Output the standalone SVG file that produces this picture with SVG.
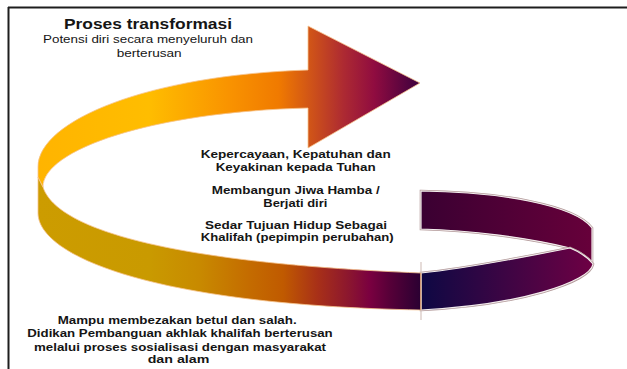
<svg xmlns="http://www.w3.org/2000/svg" xmlns:xlink="http://www.w3.org/1999/xlink" width="627" height="369" viewBox="0 0 627 369">
<style>
.t{font-family:"Liberation Sans",Arial,sans-serif;fill:#151515}
.b{font-weight:bold}
.gold{stroke:#f6c48e;stroke-width:0.8}
.sh{fill:none;stroke:#b39a9a;stroke-width:2.6}
.hl{stroke:#f4eeee;stroke-width:1.2}
</style>
<defs>
<linearGradient id="gUp" gradientUnits="userSpaceOnUse" x1="38" y1="0" x2="420" y2="0">
<stop offset="0" stop-color="#ffb400"/>
<stop offset="0.29" stop-color="#ffbd00"/>
<stop offset="0.5" stop-color="#f99300"/>
<stop offset="0.63" stop-color="#f07a00"/>
<stop offset="0.70" stop-color="#d55a14"/>
<stop offset="0.80" stop-color="#ad2a32"/>
<stop offset="0.88" stop-color="#900c40"/>
<stop offset="1" stop-color="#3c003e"/>
</linearGradient>
<linearGradient id="gLow" gradientUnits="userSpaceOnUse" x1="38" y1="0" x2="421" y2="0">
<stop offset="0" stop-color="#cc9c00"/>
<stop offset="0.29" stop-color="#c99a00"/>
<stop offset="0.42" stop-color="#c88a00"/>
<stop offset="0.55" stop-color="#c46c00"/>
<stop offset="0.64" stop-color="#c05a00"/>
<stop offset="0.73" stop-color="#a83018"/>
<stop offset="0.815" stop-color="#8a1530"/>
<stop offset="0.866" stop-color="#7a0040"/>
<stop offset="0.92" stop-color="#560038"/>
<stop offset="1" stop-color="#2a0032"/>
</linearGradient>
<linearGradient id="gBack" gradientUnits="userSpaceOnUse" x1="421" y1="0" x2="593" y2="0">
<stop offset="0" stop-color="#3a0032"/>
<stop offset="1" stop-color="#67003a"/>
</linearGradient>
<linearGradient id="gFront" gradientUnits="userSpaceOnUse" x1="421" y1="0" x2="593" y2="0">
<stop offset="0" stop-color="#0e0844"/>
<stop offset="0.5" stop-color="#3e0544"/>
<stop offset="1" stop-color="#6e0044"/>
</linearGradient>
<path id="pBack" d="M421,191 C500,192 575,205 592,228 L592,262 Q583,252 570,248 C530,238 470,230 421,229 Z"/>
<path id="pFront" d="M421,273 C470,268 530,256 570,248 Q585,254 593,264 C590,282 520,305 421,310 Z"/>
</defs>

<g id="frame" fill="none" stroke="#1e1e1e" stroke-width="2">
<line x1="8" y1="7.5" x2="627" y2="7.5"/>
<line x1="8.5" y1="7" x2="8.5" y2="369"/>
</g>

<g id="ribbon">
<g id="tail-back">
<use xlink:href="#pBack" class="sh"/>
<use xlink:href="#pBack" fill="url(#gBack)" class="hl"/>
</g>
<g id="tail-front">
<use xlink:href="#pFront" class="sh"/>
<use xlink:href="#pFront" fill="url(#gFront)" class="hl"/>
</g>
<g id="front-band">
<path d="M43,187 C55,225 150,262 421,273 L421,310 C150,305 38,255 38,213 L38,177 Z" fill="url(#gLow)" class="gold"/>
</g>
<g id="back-band-arrow">
<path d="M38,167 C38,120 150,75 308,70 L308,26 L420,83 L308,148 L308,108 C150,112 43,150 43,187 L38,177 Z" fill="url(#gUp)" class="gold"/>
</g>
<g id="joint">
<line x1="421" y1="262" x2="421" y2="320" stroke="#cdb9b3" stroke-width="1"/>
<line x1="420.6" y1="273" x2="420.6" y2="310" stroke="#e0a070" stroke-width="0.8"/>
</g>
</g>

<g id="title">
<text class="t b" x="64" y="29" font-size="15.5" textLength="168" lengthAdjust="spacingAndGlyphs">Proses transformasi</text>
<text class="t" x="43" y="43.3" font-size="10.7" textLength="210" lengthAdjust="spacingAndGlyphs">Potensi diri secara menyeluruh dan</text>
<text class="t" x="116.7" y="56.7" font-size="10.7" textLength="65" lengthAdjust="spacingAndGlyphs">berterusan</text>
</g>

<g id="stage-belief">
<text class="t b" x="200.7" y="157.7" font-size="10.7" textLength="190" lengthAdjust="spacingAndGlyphs">Kepercayaan, Kepatuhan dan</text>
<text class="t b" x="215.7" y="170.7" font-size="10.7" textLength="160" lengthAdjust="spacingAndGlyphs">Keyakinan kepada Tuhan</text>
</g>
<g id="stage-soul">
<text class="t b" x="211.7" y="194" font-size="10.7" textLength="168" lengthAdjust="spacingAndGlyphs">Membangun Jiwa Hamba /</text>
<text class="t b" x="263.3" y="206.7" font-size="10.7" textLength="64" lengthAdjust="spacingAndGlyphs">Berjati diri</text>
</g>
<g id="stage-purpose">
<text class="t b" x="205" y="229.3" font-size="10.7" textLength="182" lengthAdjust="spacingAndGlyphs">Sedar Tujuan Hidup Sebagai</text>
<text class="t b" x="200.7" y="240.5" font-size="10.7" textLength="193" lengthAdjust="spacingAndGlyphs">Khalifah (pepimpin perubahan)</text>
</g>
<g id="stage-moral">
<text class="t b" x="57.7" y="324" font-size="11" textLength="239" lengthAdjust="spacingAndGlyphs">Mampu membezakan betul dan salah.</text>
<text class="t b" x="27.3" y="337.3" font-size="11" textLength="305.4" lengthAdjust="spacingAndGlyphs">Didikan Pembanguan akhlak khalifah berterusan</text>
<text class="t b" x="34" y="350.7" font-size="11" textLength="292" lengthAdjust="spacingAndGlyphs">melalui proses sosialisasi dengan masyarakat</text>
<text class="t b" x="147.7" y="363.3" font-size="11" textLength="61.6" lengthAdjust="spacingAndGlyphs">dan alam</text>
</g>
</svg>
